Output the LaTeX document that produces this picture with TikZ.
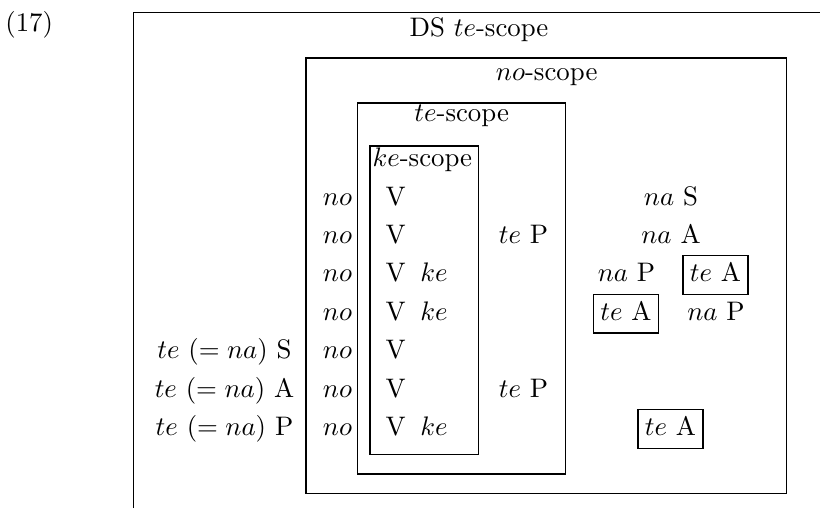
\documentclass[tikz,border=0pt]{standalone}
\begin{document}
\begin{tikzpicture}[x=0.37313pt,y=-0.37313pt,
  lbl/.style={anchor=base,inner sep=0pt},
  lblw/.style={anchor=base west,inner sep=0pt},
  boxlbl/.style={draw,line width=0.45pt,anchor=base,text height=6.9pt,text depth=2pt,inner xsep=2.6pt,inner ysep=2.8pt},
  scopebox/.style={draw,line width=0.45pt}]
\useasboundingbox (0,0) rectangle (820,508);
% frames
\draw[scopebox] (133.3,508) -- (133.3,12.7) -- (820,12.7);
\draw[scopebox] (306,58) rectangle (786.7,493.3);
\draw[scopebox] (357.3,103) rectangle (565.7,474);
\draw[scopebox] (370,146) rectangle (478.8,454.3);
% titles
\node[lbl] (num) at (29.2,31) {(17)};
\node[lbl] (ds) at (479,36) {DS $te$-scope};
\node[lbl] (nos) at (546.7,80) {$no$-scope};
\node[lbl] (tes) at (461.7,121.7) {$te$-scope};
\node[lblw] (kes) at (372,166) {$ke$-scope};
% rows
\foreach \r/\y in {1/205,2/243.4,3/281.8,4/320.2,5/358.6,6/397,7/435.4}{
  \node[lbl] (no\r) at (337.5,\y) {$no$};
  \node[lbl] (v\r) at (395.7,\y) {V};
}
\node[lbl] (ke3) at (434,281.8) {$ke$};
\node[lbl] (ke4) at (434,320.2) {$ke$};
\node[lbl] (ke7) at (434,435.4) {$ke$};
\node[lbl] (teP2) at (523.5,243.4) {$te$ P};
\node[lbl] (teP6) at (523.5,397) {$te$ P};
\node[lbl] (l5) at (224.5,358.6) {$te$ $(=na)$ S};
\node[lbl] (l6) at (224.5,397) {$te$ $(=na)$ A};
\node[lbl] (l7) at (224.5,435.4) {$te$ $(=na)$ P};
\node[lbl] (naS) at (671,205) {$na$ S};
\node[lbl] (naA) at (671,243.4) {$na$ A};
\node[lbl] (naP3) at (626.5,281.8) {$na$ P};
\node[lbl] (naP4) at (716,320.2) {$na$ P};
\node[boxlbl] (teA1) at (715.5,281.8) {$te$ A};
\node[boxlbl] (teA2) at (626,320.2) {$te$ A};
\node[boxlbl] (teA3) at (670.5,435.4) {$te$ A};
\end{tikzpicture}
\end{document}
